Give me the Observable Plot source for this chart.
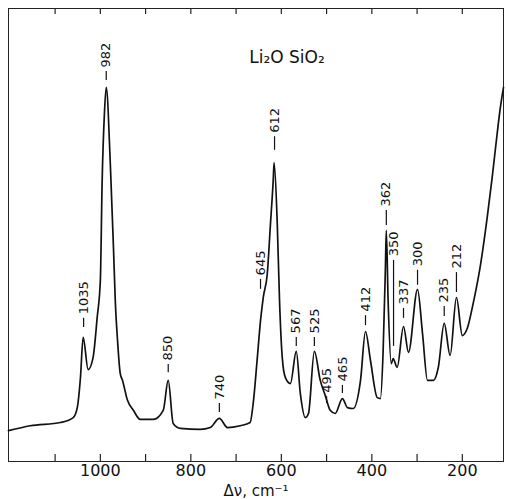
<!DOCTYPE html>
<html>
<head>
<meta charset="utf-8">
<script src="https://cdn.jsdelivr.net/npm/d3@7"></script>
<script src="https://cdn.jsdelivr.net/npm/@observablehq/plot@0.6"></script>
<style>
  html, body { margin: 0; padding: 0; background: #fff; }
</style>
</head>
<body>
<div id="chart"></div>
<script>
// Raman spectrum of Li2O·SiO2
const wavenumber = [1203,1155,1088,1060,1051,1044,1038,1027,1016,1007,
  1000,996,991,987,978,971,967,962,956,951,
  940,927,912,883,861,850,839,823,779,757,
  737,719,691,669,662,653,646,640,631,624,
  618,616,609,604,598,591,580,567,558,547,
  540,527,514,503,492,481,465,454,441,425,
  414,403,388,381,375,370,368,364,357,353,
  344,330,319,299,288,277,264,253,240,227,
  213,200,189,176,160,145,134,123,116,109];
const intensity = [6.8,7.9,8.6,9.7,11.9,18.5,27.4,20.3,23.0,31.8,
  40.0,62.0,76.8,82.6,65.8,47.2,35.5,26.7,19.4,17.9,
  13.5,11.3,9.3,9.3,11.3,17.9,8.4,7.3,7.1,7.5,
  9.5,7.5,7.9,8.6,13.0,23.0,31.1,36.2,41.5,52.5,
  62.0,66.0,52.5,35.5,23.0,18.5,17.2,24.3,15.0,9.7,
  10.6,24.3,17.9,14.6,11.3,10.6,13.9,11.9,11.7,17.9,
  28.7,22.3,14.1,13.9,24.5,42.8,51.0,35.5,21.6,22.7,
  20.8,29.8,24.1,38.0,28.3,17.9,17.9,20.8,30.5,23.4,
  36.2,27.8,29.4,34.9,43.3,53.9,62.7,72.4,78.1,82.6];

// Peak annotations
const peakLabels = ["1035","982","850","740","645","612","567","525","495","465","412","362","350","337","300","235","212"];
const peakPos    = [1037, 987, 850, 737, 646, 615, 567, 527, 500, 465, 414, 368, 352, 330, 299, 240, 213];
const leaderLow  = [29.6, 84.1, 19.6, 10.8, 38.0, 68.7, 25.4, 25.4, 12.8, 15.0, 30.0, 52.1, 25.4, 31.6, 38.9, 32.0, 37.3];
const leaderHigh = [31.6, 86.1, 21.4, 12.8, 40.2, 71.7, 27.4, 27.4, 14.3, 16.8, 32.2, 55.4, 44.4, 33.8, 42.2, 34.2, 41.7];

const title = "Li₂O SiO₂";
const xTickLabels = [1000, 800, 600, 400, 200];
const xMinorTicks = [1100, 1000, 900, 800, 700, 600, 500, 400, 300, 200];
const xDomain = [1203, 109];

const spectrum = wavenumber.map((w, i) => ({w, v: intensity[i]}));
const peaks = peakLabels.map((t, i) => ({t, x: peakPos[i], lo: leaderLow[i], hi: leaderHigh[i]}));

const font = "DejaVu Sans, sans-serif";
const W = 508, H = 499, mT = 8, mB = 38;
const frameH = H - mT - mB;

const chart = Plot.plot({
  width: W,
  height: H,
  marginLeft: 8,
  marginRight: 5,
  marginTop: mT,
  marginBottom: mB,
  style: {fontFamily: font, background: "#fff", color: "#111"},
  x: {domain: xDomain, label: null},
  y: {domain: [0, 100], axis: null},
  marks: [
    Plot.frame({stroke: "#222", strokeWidth: 1}),
    // inward ticks on the bottom and top edges
    Plot.tickX(xMinorTicks, {x: d => d, insetTop: frameH - 7, stroke: "#222", strokeWidth: 1.2}),
    Plot.tickX(xMinorTicks, {x: d => d, insetBottom: frameH - 6, stroke: "#222", strokeWidth: 1.2}),
    Plot.axisX({anchor: "bottom", ticks: xTickLabels, tickSize: 0, tickPadding: 3, fontSize: 16, fill: "#111",
      tickFormat: d3.format("d"), label: null}),
    Plot.text(["Δν, cm⁻¹"], {frameAnchor: "bottom", dy: 30, fontSize: 15, fill: "#111", lineAnchor: "middle"}),
    Plot.line(spectrum, {x: "w", y: "v", stroke: "#111", strokeWidth: 1.7, curve: "monotone-x"}),
    Plot.ruleX(peaks, {x: "x", y1: "lo", y2: "hi", stroke: "#111", strokeWidth: 1.2}),
    Plot.text(peaks, {x: "x", y: "hi", text: "t", rotate: -90, textAnchor: "start", dy: -4, fontSize: 13, fill: "#111"}),
    Plot.text([title], {frameAnchor: "top", dx: 31, dy: 42, fontSize: 17, fill: "#111"})
  ]
});
document.getElementById("chart").append(chart);
</script>
</body>
</html>
